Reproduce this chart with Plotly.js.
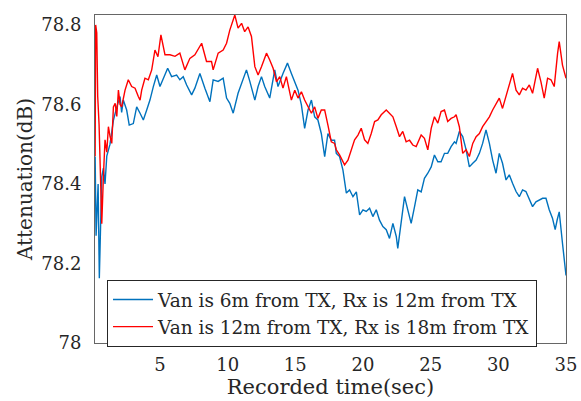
<!DOCTYPE html>
<html>
<head>
<meta charset="utf-8">
<script src="https://cdn.plot.ly/plotly-3.0.1.min.js"></script>
<style>html,body{margin:0;padding:0;background:#fff;}#chart{width:581px;height:401px;}</style>
</head>
<body>
<div id="chart"></div>
<script>
// Series 1: Van is 6m from TX, Rx is 12m from TX
const blueTime = [0.21,0.28,0.43,0.52,0.70,0.82,0.94,1.07,1.31,1.56,1.81,2.05,2.17,2.29,2.54,2.73,3.03,3.28,3.53,3.77,4.02,4.26,4.51,4.76,5.00,5.24,5.57,5.86,6.23,6.47,6.72,6.97,7.34,7.58,7.95,8.32,8.69,8.93,9.30,9.67,9.92,10.16,10.41,10.77,11.14,11.39,11.64,12.01,12.25,12.50,12.74,13.11,13.48,13.72,14.09,14.42,14.71,14.96,15.20,15.45,15.69,15.94,16.19,16.43,16.67,16.92,17.17,17.41,17.66,17.90,18.03,18.27,18.52,18.77,19.01,19.26,19.51,19.75,20.00,20.24,20.49,20.73,20.98,21.22,21.47,21.72,21.96,22.21,22.46,22.57,22.82,23.07,23.31,23.56,23.81,24.05,24.30,24.54,24.79,25.04,25.28,25.53,25.77,26.02,26.26,26.51,26.76,26.88,27.12,27.37,27.62,27.86,28.11,28.36,28.60,28.84,29.09,29.34,29.58,29.83,30.07,30.31,30.57,30.81,31.05,31.31,31.55,31.79,32.04,32.29,32.53,32.78,33.02,33.27,33.52,33.76,34.00,34.20,34.35,34.50,34.74,35.00];
const blueAtten = [78.469,78.27,78.40,78.163,78.418,78.44,78.40,78.47,78.50,78.56,78.594,78.62,78.58,78.611,78.586,78.548,78.552,78.594,78.578,78.561,78.586,78.611,78.645,78.674,78.645,78.666,78.691,78.670,78.674,78.662,78.670,78.649,78.624,78.641,78.678,78.641,78.607,78.662,78.658,78.666,78.616,78.603,78.578,78.628,78.662,78.687,78.658,78.611,78.645,78.670,78.645,78.616,78.687,78.645,78.678,78.704,78.678,78.657,78.636,78.599,78.540,78.586,78.611,78.569,78.561,78.527,78.469,78.527,78.510,78.510,78.477,78.469,78.435,78.377,78.385,78.368,78.380,78.322,78.335,78.331,78.339,78.318,78.335,78.309,78.293,78.285,78.263,78.301,78.268,78.238,78.301,78.368,78.335,78.301,78.343,78.385,78.380,78.414,78.427,78.443,78.473,78.456,78.456,78.477,78.477,78.494,78.506,78.502,78.532,78.519,78.486,78.443,78.452,78.460,78.477,78.502,78.536,78.502,78.460,78.427,78.477,78.452,78.410,78.423,78.402,78.381,78.368,78.385,78.381,78.360,78.343,78.355,78.360,78.364,78.364,78.335,78.314,78.285,78.31,78.330,78.251,78.17];

// Series 2: Van is 12m from TX, Rx is 18m from TX
const redTime = [0.21,0.25,0.33,0.40,0.50,0.60,0.70,0.82,0.94,1.07,1.19,1.31,1.44,1.56,1.69,1.81,1.93,2.05,2.17,2.42,2.66,2.91,3.16,3.40,3.53,3.65,3.89,4.14,4.39,4.63,4.85,5.07,5.37,5.74,6.11,6.47,6.84,7.21,7.58,8.08,8.44,8.81,8.93,9.30,9.67,9.92,10.16,10.53,10.77,11.03,11.26,11.51,11.76,12.01,12.25,12.50,12.87,13.11,13.36,13.61,13.85,14.09,14.34,14.71,14.96,15.20,15.45,15.69,15.94,16.19,16.43,16.67,16.92,17.17,17.41,17.66,17.90,18.03,18.27,18.64,18.89,19.14,19.38,19.63,19.87,20.12,20.36,20.61,20.86,21.10,21.35,21.72,21.96,22.21,22.46,22.70,22.94,23.19,23.44,23.68,23.93,24.30,24.54,24.79,25.04,25.28,25.53,25.77,26.02,26.26,26.51,26.76,26.88,27.12,27.37,27.62,27.86,28.11,28.36,28.60,28.84,29.09,29.34,29.58,29.83,30.07,30.31,30.57,30.81,31.05,31.31,31.55,31.79,32.04,32.29,32.53,32.90,33.15,33.39,33.64,33.89,34.13,34.38,34.50,34.74,35.00];
const redAtten = [78.47,78.80,78.78,78.62,78.55,78.40,78.30,78.418,78.511,78.48,78.544,78.52,78.502,78.594,78.603,78.57,78.636,78.60,78.594,78.636,78.662,78.645,78.641,78.62,78.611,78.636,78.666,78.662,78.687,78.737,78.72,78.775,78.725,78.725,78.721,78.729,78.687,78.716,78.725,78.754,78.708,78.708,78.687,78.729,78.737,78.754,78.787,78.825,78.792,78.804,78.783,78.795,78.771,78.695,78.674,78.695,78.729,78.712,78.691,78.657,78.670,78.641,78.670,78.611,78.636,78.616,78.632,78.611,78.594,78.578,78.594,78.565,78.586,78.586,78.548,78.506,78.502,78.486,78.473,78.448,78.460,78.486,78.511,78.523,78.540,78.511,78.502,78.527,78.557,78.561,78.574,78.586,78.578,78.569,78.544,78.519,78.532,78.506,78.510,78.498,78.494,78.523,78.515,78.486,78.540,78.569,78.553,78.582,78.586,78.557,78.565,78.569,78.574,78.544,78.477,78.486,78.469,78.502,78.519,78.527,78.544,78.557,78.569,78.586,78.603,78.616,78.590,78.620,78.645,78.678,78.636,78.624,78.641,78.636,78.649,78.628,78.691,78.657,78.616,78.666,78.662,78.645,78.729,78.758,78.699,78.666];

const seriesNames = ["Van is 6m from TX, Rx is 12m from TX", "Van is 12m from TX, Rx is 18m from TX"];
const xTicks = [5,10,15,20,25,30,35];
const yTicks = [78,78.2,78.4,78.6,78.8];
const yTickText = ["78","78.2","78.4","78.6","78.8"];

const FONT = "DejaVu Serif";
const traces = [
  {x: blueTime, y: blueAtten, type: "scatter", mode: "lines", name: seriesNames[0],
   line: {color: "#0072BD", width: 1.4}},
  {x: redTime, y: redAtten, type: "scatter", mode: "lines", name: seriesNames[1],
   line: {color: "#FF0000", width: 1.4}}
];
const layout = {
  width: 581, height: 401,
  margin: {l: 95, r: 15, t: 15, b: 58},
  paper_bgcolor: "#fff", plot_bgcolor: "#fff",
  font: {family: FONT, color: "#262626", size: 18},
  showlegend: true,
  legend: {x: 0.0255, y: 0.192, xanchor: "left", yanchor: "top",
    bgcolor: "#fff", bordercolor: "#262626", borderwidth: 1, itemwidth: 40,
    font: {family: FONT, size: 18.5, color: "#262626"}, tracegroupgap: 0},
  xaxis: {range: [0.2, 35], tickvals: xTicks, ticks: "", showgrid: false, zeroline: false,
    showline: true, mirror: true, linecolor: "#666", linewidth: 1, ticklabelstandoff: 5,
    tickfont: {family: FONT, size: 18, color: "#262626"},
    title: {text: "Recorded time(sec)", font: {family: FONT, size: 21, color: "#262626"}, standoff: 5}},
  yaxis: {range: [78, 78.825], tickvals: yTicks, ticktext: yTickText, ticks: "", showgrid: false, zeroline: false,
    showline: true, mirror: true, linecolor: "#666", linewidth: 1, ticklabelstandoff: 9,
    tickfont: {family: FONT, size: 18, color: "#262626"},
    title: {text: "Attenuation(dB)", font: {family: FONT, size: 20, color: "#262626"}, standoff: 3}}
};
Plotly.newPlot("chart", traces, layout, {displayModeBar: false, staticPlot: true});
</script>
</body>
</html>
